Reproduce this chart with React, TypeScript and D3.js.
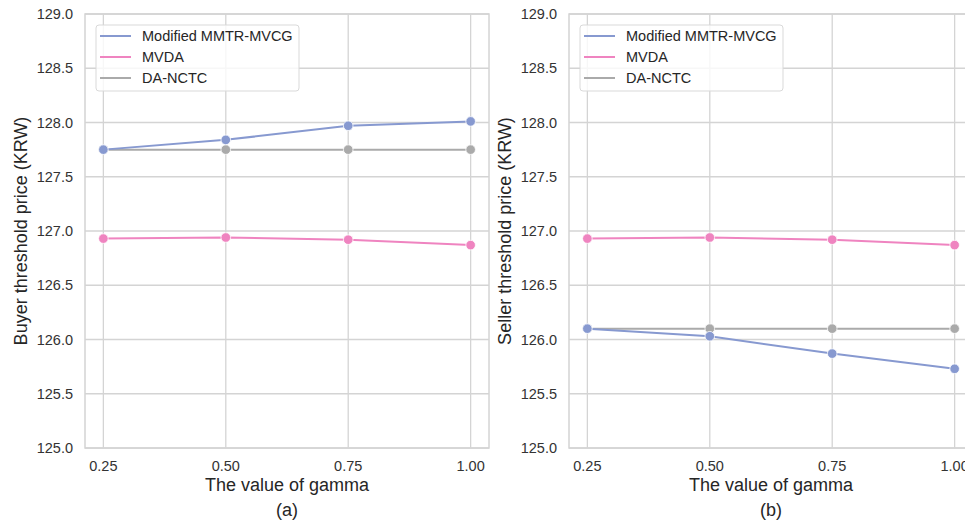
import * as d3 from "d3";
import React from "react";

// gamma values on the x axis
const gammas = [0.25, 0.5, 0.75, 1.0];
const seriesNames = ["Modified MMTR-MVCG", "MVDA", "DA-NCTC"];
const seriesColors = ["#8799d0", "#ef84c0", "#aaaaaa"];

// (a) buyer threshold price
const buyerModified = [127.75, 127.84, 127.97, 128.01];
const buyerMVDA = [126.93, 126.94, 126.92, 126.87];
const buyerDANCTC = [127.75, 127.75, 127.75, 127.75];

// (b) seller threshold price
const sellerModified = [126.1, 126.03, 125.87, 125.73];
const sellerMVDA = [126.93, 126.94, 126.92, 126.87];
const sellerDANCTC = [126.1, 126.1, 126.1, 126.1];

const yTicks = [125, 125.5, 126, 126.5, 127, 127.5, 128, 128.5, 129];
const xTicks = [0.25, 0.5, 0.75, 1.0];

const FONT = "'Liberation Sans', Arial, sans-serif";
const GRID = "#d4d4d4";

type PanelProps = {
  left: number;
  yLabel: string;
  caption: string;
  series: number[][];
};

const Panel = ({ left, yLabel, caption, series }: PanelProps) => {
  const top = 14;
  const bottom = 448;
  // matplotlib default 5% margin on x
  const x = d3.scaleLinear().domain([0.2125, 1.0375]).range([left, left + 404]);
  const y = d3.scaleLinear().domain([125, 129]).range([bottom, top]);
  const line = d3
    .line<number>()
    .x((_, i) => x(gammas[i]))
    .y((d) => y(d));
  const fmtY = d3.format(".1f");
  const fmtX = d3.format(".2f");
  const midX = x(0.625);

  return (
    <g fontFamily={FONT}>
      {/* grid */}
      {yTicks.map((t) => (
        <line key={"gy" + t} x1={x.range()[0]} x2={x.range()[1]} y1={y(t)} y2={y(t)} stroke={GRID} strokeWidth={1.3} />
      ))}
      {xTicks.map((t) => (
        <line key={"gx" + t} x1={x(t)} x2={x(t)} y1={top} y2={bottom} stroke={GRID} strokeWidth={1.3} />
      ))}
      <rect x={x.range()[0]} y={top} width={x.range()[1] - x.range()[0]} height={bottom - top} fill="none" stroke={GRID} strokeWidth={1.5} />

      {/* tick labels */}
      {yTicks.map((t) => (
        <text key={"ty" + t} x={left - 12} y={y(t)} dy="0.35em" textAnchor="end" fontSize={14.5} fill="#333">
          {fmtY(t)}
        </text>
      ))}
      {xTicks.map((t) => (
        <text key={"tx" + t} x={x(t)} y={471} textAnchor="middle" fontSize={14.5} fill="#333">
          {fmtX(t)}
        </text>
      ))}

      {/* axis labels */}
      <text x={midX} y={491} textAnchor="middle" fontSize={18} fill="#262626">
        The value of gamma
      </text>
      <text x={midX} y={516} textAnchor="middle" fontSize={18} fill="#262626">
        {caption}
      </text>
      <text
        transform={`translate(${left - 58},${(top + bottom) / 2}) rotate(-90)`}
        textAnchor="middle"
        fontSize={18}
        fill="#262626"
      >
        {yLabel}
      </text>

      {/* lines + markers, drawn in reverse so the first series is on top */}
      {series
        .map((vals, si) => (
          <g key={"s" + si}>
            <path d={line(vals) || ""} fill="none" stroke={seriesColors[si]} strokeWidth={2} />
            {vals.map((v, i) => (
              <circle key={i} cx={x(gammas[i])} cy={y(v)} r={4.8} fill={seriesColors[si]} stroke="#fff" strokeWidth={0.8} />
            ))}
          </g>
        ))
        .reverse()}

      {/* legend */}
      <g transform={`translate(${left + 11},25)`}>
        <rect x={0} y={0} width={203} height={66} rx={3} fill="#fff" fillOpacity={0.8} stroke="#d9d9d9" strokeWidth={1} />
        {seriesNames.map((name, i) => (
          <g key={name} transform={`translate(0,${11 + i * 21})`}>
            <line x1={4} x2={35} y1={0} y2={0} stroke={seriesColors[i]} strokeWidth={2} />
            <text x={46} y={0} dy="0.35em" fontSize={14.5} fill="#262626">
              {name}
            </text>
          </g>
        ))}
      </g>
    </g>
  );
};

export default function App() {
  return (
    <svg width={965} height={526} style={{ position: "absolute", left: 0, top: 0, background: "#fff" }}>
      <rect width={965} height={526} fill="#fff" />
      <Panel
        left={85}
        yLabel="Buyer threshold price (KRW)"
        caption="(a)"
        series={[buyerModified, buyerMVDA, buyerDANCTC]}
      />
      <Panel
        left={569}
        yLabel="Seller threshold price (KRW)"
        caption="(b)"
        series={[sellerModified, sellerMVDA, sellerDANCTC]}
      />
    </svg>
  );
}
